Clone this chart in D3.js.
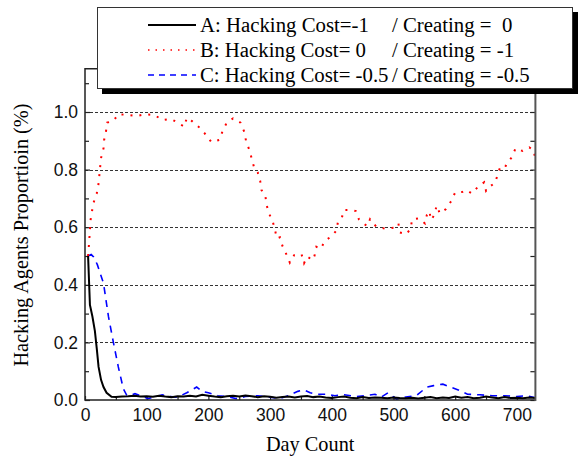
<!DOCTYPE html>
<html>
<head>
<meta charset="utf-8">
<script src="https://cdn.jsdelivr.net/npm/d3@7"></script>
<style>
  body { margin: 0; background: #fff; }
  svg { display: block; }
</style>
</head>
<body>
<svg></svg>
<script>
// series values: [day, proportion]
const seriesA = [
  [5, 0.5], [8, 0.33], [12, 0.29], [16, 0.24], [19, 0.18], [22, 0.115], [26, 0.07],
  [30, 0.045], [35, 0.025], [43, 0.011], [50, 0.01], [60, 0.012], [70, 0.013],
  [80, 0.015], [90, 0.012], [100, 0.013], [110, 0.011], [120, 0.015], [130, 0.012],
  [140, 0.01], [150, 0.013], [160, 0.012], [170, 0.015], [180, 0.012], [190, 0.018],
  [200, 0.015], [210, 0.012], [220, 0.01], [230, 0.013], [240, 0.015], [250, 0.012],
  [260, 0.016], [270, 0.013], [280, 0.01], [290, 0.013], [300, 0.011], [310, 0.008],
  [320, 0.01], [330, 0.012], [340, 0.009], [350, 0.012], [360, 0.014], [370, 0.01],
  [380, 0.012], [390, 0.009], [400, 0.007], [410, 0.01], [420, 0.012], [430, 0.008],
  [440, 0.006], [450, 0.01], [460, 0.007], [470, 0.009], [480, 0.008], [490, 0.006],
  [500, 0.009], [510, 0.007], [520, 0.006], [530, 0.008], [540, 0.005], [550, 0.008],
  [560, 0.01], [570, 0.006], [580, 0.009], [590, 0.007], [600, 0.012], [610, 0.008],
  [620, 0.01], [630, 0.006], [640, 0.008], [650, 0.012], [660, 0.009], [670, 0.006],
  [680, 0.01], [690, 0.007], [700, 0.008], [710, 0.006], [720, 0.009], [730, 0.007],
];

const seriesB = [
  [5, 0.5], [6, 0.527], [8, 0.59], [9, 0.625], [13.5, 0.683], [19, 0.717], [21.6, 0.746],
  [23, 0.775], [26, 0.84], [30, 0.874], [31, 0.903], [34, 0.932], [36, 0.963],
  [46, 0.969], [54, 0.992], [69, 0.99], [84, 0.986], [97, 0.992], [112, 0.99],
  [126, 0.972], [139, 0.976], [148, 0.966], [161, 0.949], [165, 0.98], [173, 0.969],
  [184, 0.949], [194, 0.926], [205, 0.895], [218, 0.903], [223, 0.934], [230, 0.964],
  [240, 0.978], [252, 0.963], [258, 0.932], [261, 0.9], [266, 0.87], [270, 0.84],
  [274, 0.808], [280, 0.79], [284, 0.76], [286, 0.729], [292, 0.714], [294, 0.683],
  [297, 0.653], [304, 0.622], [308, 0.59], [311, 0.561], [316, 0.565], [320, 0.535],
  [327, 0.503], [332, 0.477], [339, 0.503], [347, 0.503], [351, 0.506], [355, 0.475],
  [360, 0.498], [369, 0.486], [372, 0.501], [375, 0.532], [382, 0.525], [389, 0.553],
  [400, 0.569], [407, 0.587], [410, 0.618], [416, 0.631], [420, 0.66], [430, 0.66],
  [439, 0.656], [444, 0.627], [453, 0.61], [458, 0.604], [462, 0.628], [472, 0.602],
  [486, 0.595], [501, 0.598], [508, 0.613], [510, 0.582], [521, 0.576], [528, 0.596],
  [530, 0.627], [541, 0.631], [551, 0.613], [554, 0.642], [558, 0.656], [561, 0.625],
  [566, 0.642], [570, 0.675], [575, 0.648], [585, 0.663], [594, 0.692], [600, 0.721],
  [611, 0.722], [618, 0.729], [627, 0.717], [636, 0.738], [647, 0.756], [650, 0.726],
  [656, 0.741], [665, 0.755], [669, 0.785], [674, 0.814], [682, 0.813], [691, 0.841],
  [698, 0.874], [709, 0.865], [720, 0.877], [727, 0.868], [730, 0.837],
];

const seriesC = [
  [5, 0.5], [10, 0.505], [14, 0.497], [20, 0.47], [30, 0.405], [38, 0.29], [46, 0.2],
  [54, 0.115], [62, 0.04], [68, 0.015], [75, 0.018], [81, 0.022], [90, 0.015],
  [102, 0.005], [115, 0.012], [125, 0.018], [135, 0.012], [150, 0.01], [165, 0.025],
  [181, 0.045], [190, 0.03], [200, 0.025], [215, 0.015], [230, 0.012], [245, 0.005],
  [260, 0.012], [280, 0.015], [300, 0.01], [315, 0.005], [330, 0.015], [345, 0.03],
  [355, 0.035], [365, 0.025], [375, 0.02], [390, 0.02], [405, 0.015], [420, 0.018],
  [440, 0.012], [455, 0.015], [470, 0.02], [480, 0.01], [491, 0.025], [505, 0.003],
  [520, 0.01], [537, 0.015], [554, 0.045], [565, 0.05], [580, 0.055], [592, 0.045],
  [605, 0.035], [620, 0.02], [640, 0.018], [660, 0.015], [680, 0.015], [700, 0.012],
  [715, 0.015], [730, 0.008],
];

const xTicks = [0, 100, 200, 300, 400, 500, 600, 700];
const yTicks = [0, 0.2, 0.4, 0.6, 0.8, 1.0];
const legendNames = ['A: Hacking Cost=-1', 'B: Hacking Cost= 0', 'C: Hacking Cost= -0.5'];
const legendTails = ['/ Creating =  0', '/ Creating = -1', '/ Creating = -0.5'];

const width = 579;
const height = 459;
const plotLeft = 85, plotRight = 535.4, plotTop = 68.8, plotBottom = 400;
const serif = '"Liberation Serif", "Times New Roman", serif';

const svg = d3.select('svg').attr('width', width).attr('height', height);

const x = d3.scaleLinear().domain([0, 730]).range([plotLeft, plotRight]);
const y = d3.scaleLinear().domain([0, 1.15]).range([plotBottom, plotTop]);

// dashed grid at the major y values
svg.append('g')
  .selectAll('line')
  .data(yTicks.filter((v) => v > 0))
  .join('line')
  .attr('x1', plotLeft)
  .attr('x2', plotRight)
  .attr('y1', (v) => Math.round(y(v)) + 0.5)
  .attr('y2', (v) => Math.round(y(v)) + 0.5)
  .attr('stroke', '#333')
  .attr('stroke-width', 1)
  .attr('stroke-dasharray', '3,2');

const tickFont = (g) => g.selectAll('text')
  .attr('font-family', '"Liberation Sans", Arial, sans-serif')
  .attr('font-size', 17.5)
  .attr('fill', '#111');

// left axis with labels, minor ticks every 0.1
svg.append('g')
  .attr('transform', `translate(${plotLeft},0)`)
  .call(d3.axisLeft(y).tickValues(yTicks).tickSize(-5).tickPadding(7).tickFormat(d3.format('.1f')))
  .call((g) => g.select('.domain').remove())
  .call(tickFont);
svg.append('g')
  .attr('transform', `translate(${plotLeft},0)`)
  .call(d3.axisLeft(y).tickValues(d3.range(1, 12, 2).map((v) => v / 10)).tickSize(-4).tickFormat(''))
  .call((g) => g.select('.domain').remove());

// right axis ticks only
svg.append('g')
  .attr('transform', `translate(${plotRight},0)`)
  .call(d3.axisRight(y).tickValues(d3.range(0, 12).map((v) => v / 10)).tickSize(-5).tickFormat(''))
  .call((g) => g.select('.domain').remove());

// bottom axis
svg.append('g')
  .attr('transform', `translate(0,${plotBottom})`)
  .call(d3.axisBottom(x).tickValues(xTicks).tickSize(-4).tickPadding(9).tickFormat(d3.format('d')))
  .call((g) => g.select('.domain').remove())
  .call(tickFont);
svg.append('g')
  .attr('transform', `translate(0,${plotBottom})`)
  .call(d3.axisBottom(x).tickValues(d3.range(50, 730, 100)).tickSize(-4).tickFormat(''))
  .call((g) => g.select('.domain').remove());

svg.selectAll('.tick line').attr('stroke', '#222').attr('stroke-width', 1.2);

// series
const line = d3.line().x((d) => x(d[0])).y((d) => y(d[1]));

svg.append('path')
  .datum(seriesC)
  .attr('d', line)
  .attr('fill', 'none')
  .attr('stroke', '#0000ff')
  .attr('stroke-width', 1.6)
  .attr('stroke-dasharray', '7,6');

svg.append('path')
  .datum(seriesA)
  .attr('d', line)
  .attr('fill', 'none')
  .attr('stroke', '#000')
  .attr('stroke-width', 2);

svg.append('path')
  .datum(seriesB)
  .attr('d', line)
  .attr('fill', 'none')
  .attr('stroke', '#ff0000')
  .attr('stroke-width', 2)
  .attr('stroke-dasharray', '2,7');

// frame
svg.append('path')
  .attr('d', `M${plotRight},${plotTop}H${plotLeft}V${plotBottom}H${plotRight}`)
  .attr('fill', 'none')
  .attr('stroke', '#222')
  .attr('stroke-width', 1.5);
svg.append('line')
  .attr('x1', plotRight).attr('x2', plotRight)
  .attr('y1', plotTop).attr('y2', plotBottom + 1)
  .attr('stroke', '#555')
  .attr('stroke-width', 2);

// axis titles
svg.append('text')
  .attr('x', (plotLeft + plotRight) / 2)
  .attr('y', 451)
  .attr('text-anchor', 'middle')
  .attr('font-family', serif)
  .attr('font-size', 20.3)
  .text('Day Count');

svg.append('text')
  .attr('transform', 'translate(28,235) rotate(-90)')
  .attr('text-anchor', 'middle')
  .attr('font-family', serif)
  .attr('font-size', 20.3)
  .text('Hacking Agents Proportioin (%)');

// legend with drop shadow
const legend = svg.append('g');
legend.append('rect')
  .attr('x', 102).attr('y', 12)
  .attr('width', 476).attr('height', 82)
  .attr('fill', '#000');
legend.append('rect')
  .attr('x', 97.5).attr('y', 7.5)
  .attr('width', 475).attr('height', 81)
  .attr('fill', '#fff')
  .attr('stroke', '#333')
  .attr('stroke-width', 1);

const legendStyles = [
  { color: '#000', width: 2, dash: null },
  { color: '#ff0000', width: 1.5, dash: '1.5,6' },
  { color: '#0000ff', width: 1.6, dash: '6,5' },
];

const rows = legend.selectAll('g.row')
  .data(legendNames)
  .join('g')
  .attr('class', 'row')
  .attr('transform', (d, i) => `translate(0,${25 + i * 25})`);

rows.append('line')
  .attr('x1', 148).attr('x2', 196)
  .attr('y1', 0).attr('y2', 0)
  .attr('stroke', (d, i) => legendStyles[i].color)
  .attr('stroke-width', (d, i) => legendStyles[i].width)
  .attr('stroke-dasharray', (d, i) => legendStyles[i].dash);

rows.append('text')
  .attr('x', 200).attr('y', 6.5)
  .attr('font-family', serif)
  .attr('font-size', 20.8)
  .text((d) => d);

rows.append('text')
  .attr('x', 392).attr('y', 6.5)
  .attr('font-family', serif)
  .attr('font-size', 20.8)
  .style('white-space', 'pre')
  .text((d, i) => legendTails[i]);
</script>
</body>
</html>
